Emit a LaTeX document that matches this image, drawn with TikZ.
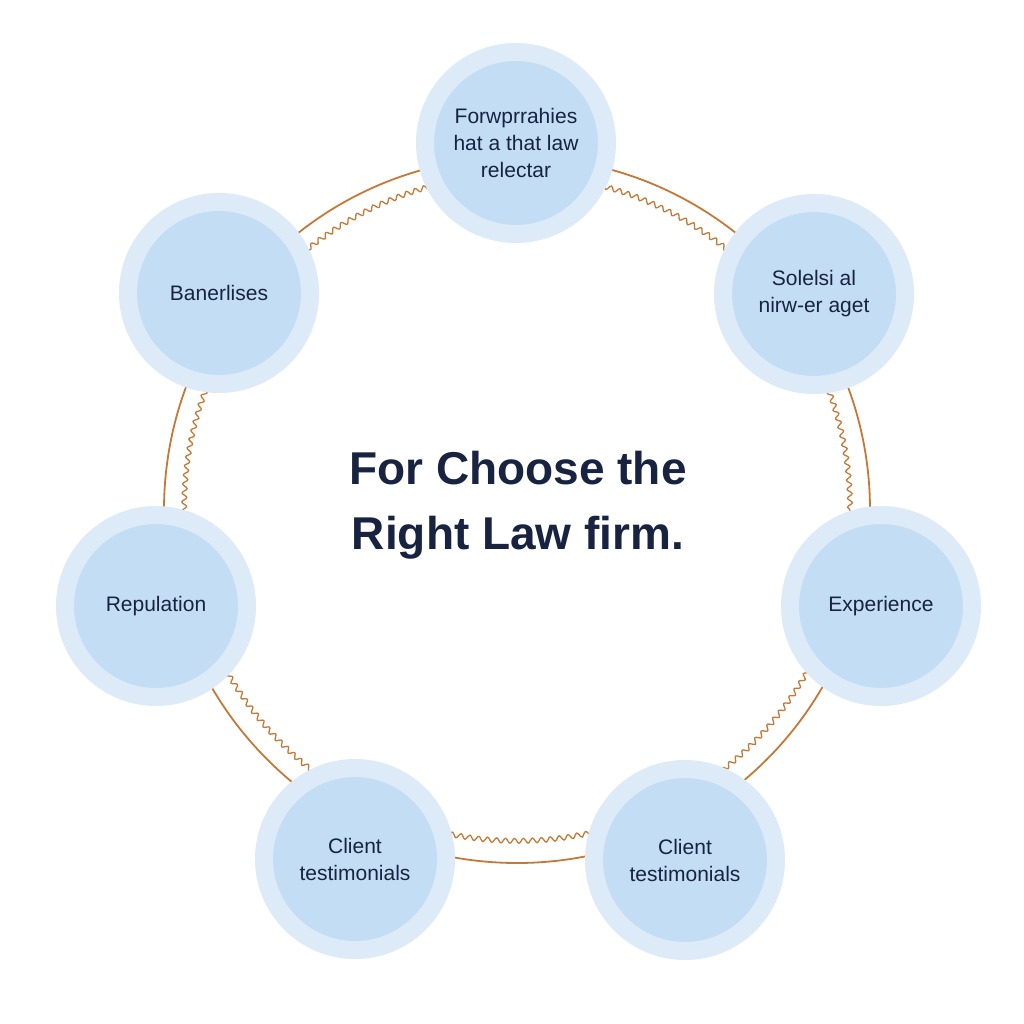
\documentclass[tikz,border=0pt]{standalone}
\usepackage{fontspec}
\setmainfont{Liberation Sans}
\usetikzlibrary{decorations.pathmorphing}
\definecolor{ringc}{HTML}{C47A36}
\definecolor{outerb}{HTML}{DDEAF7}
\definecolor{innerb}{HTML}{C3DDF5}
\definecolor{navy}{HTML}{172340}
\tikzset{
  bubble/.style={circle, fill=innerb, draw=outerb, line width=18pt, minimum size=182pt, inner sep=0pt,
    text=navy, font=\fontsize{21}{27}\selectfont, align=center},
  ring/.style={draw=ringc, line width=1.8pt},
  wavy/.style={draw=ringc, line width=1.3pt, decorate, decoration={snake, segment length=9pt, amplitude=2.4pt}},
  title/.style={text=navy, font=\fontsize{46}{65}\selectfont\bfseries, align=center}
}
\begin{document}
\begin{tikzpicture}[x=1pt,y=-1pt]
\useasboundingbox (0,0) rectangle (1024,1024);
\fill[white] (0,0) rectangle (1024,1024);
\coordinate (c) at (517,510);
\draw[ring] (c) circle [radius=353pt];
\draw[wavy] (c) circle [radius=333pt];
\node[bubble] (top) at (516,143) {Forwprrahies\\hat a that law\\relectar};
\node[bubble] (tr) at (814,294) {Solelsi al\\nirw-er aget};
\node[bubble] (tl) at (219,293) {Banerlises};
\node[bubble] (l) at (156,606) {Repulation};
\node[bubble] (r) at (881,606) {Experience};
\node[bubble] (bl) at (355,859) {Client\\testimonials};
\node[bubble] (br) at (685,860) {Client\\testimonials};
\node[title] (t) at (518,505) {For Choose the\\Right Law firm.};
\end{tikzpicture}
\end{document}
